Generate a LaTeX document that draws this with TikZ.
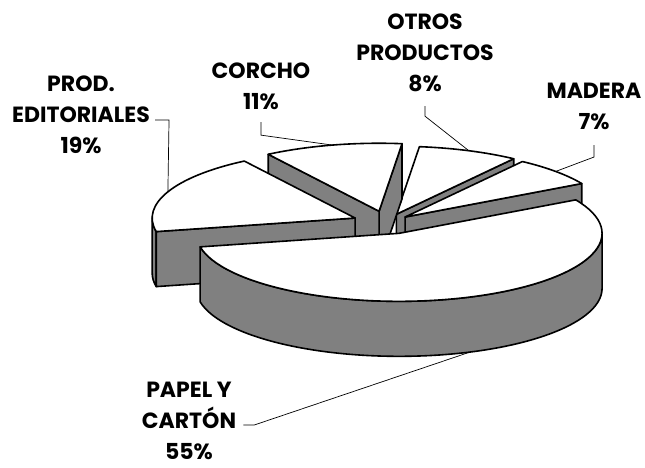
\documentclass[tikz,border=0pt]{standalone}
\usepackage{fontspec}
\setmainfont{Poppins}
\definecolor{sidegray}{RGB}{128,128,128}

\newcommand{\pierx}{203}
\newcommand{\piery}{68}
\newcommand{\pieh}{55}

% centre of one slice, pushed out along its middle angle
\newcommand{\slicecenter}[3]{\coordinate (#1) at ({387+#3*\pierx*cos(#2)},{-222.5+#3*\piery*sin(#2)});}
% cut face of a slice at one angle
\newcommand{\radface}[2]{\filldraw[sideface] (#1) -- ++({\pierx*cos(#2)},{\piery*sin(#2)}) -- ++(0,-\pieh) -- ++({-\pierx*cos(#2)},{-\piery*sin(#2)}) -- cycle;}
% round outer wall between two angles
\newcommand{\outerside}[3]{\filldraw[sideface] (#1) ++({\pierx*cos(#2)},{\piery*sin(#2)}) arc[start angle=#2, end angle=#3, x radius=\pierx, y radius=\piery] -- ++(0,-\pieh) arc[start angle=#3, end angle=#2, x radius=\pierx, y radius=\piery] -- cycle;}
% top of a slice
\newcommand{\slicetop}[3]{\filldraw[topface] (#1) -- ++({\pierx*cos(#2)},{\piery*sin(#2)}) arc[start angle=#2, end angle=#3, x radius=\pierx, y radius=\piery] -- cycle;}

\tikzset{
  sideface/.style={fill=sidegray, draw=black, line width=1.6pt, line join=round},
  topface/.style={fill=white, draw=black, line width=1.6pt, line join=round},
  leader/.style={draw=black, line width=0.7pt},
  lbl/.style={font=\fontsize{22}{31}\selectfont\bfseries, align=center, inner sep=0pt}
}

\begin{document}
\begin{tikzpicture}[x=1pt, y=1pt]
\useasboundingbox (0,-468) rectangle (645,0);

\slicecenter{cotros}{69.1}{0.13}
\slicecenter{ccorcho}{103.3}{0.17}
\slicecenter{cmadera}{42.1}{0.12}
\slicecenter{cprod}{157.3}{0.17}
\slicecenter{cpapel}{290.5}{0.17}

% back slices first
\radface{cotros}{54.7}
\slicetop{cotros}{54.7}{83.5}
\radface{ccorcho}{83.5}
\radface{ccorcho}{123.1}
\slicetop{ccorcho}{83.5}{123.1}
\radface{cmadera}{29.5}
\slicetop{cmadera}{29.5}{54.7}
\outerside{cprod}{180}{191.5}
\radface{cprod}{191.5}
\slicetop{cprod}{123.1}{191.5}
\outerside{cpapel}{191.5}{360}
\slicetop{cpapel}{191.5}{389.5}

% labels
\node[lbl] (lotros) at (425,-53) {OTROS\\PRODUCTOS\\8\%};
\node[lbl] (lmadera) at (594,-106.5) {MADERA\\7\%};
\node[lbl] (lcorcho) at (261,-86.5) {CORCHO\\11\%};
\node[lbl] (lprod) at (81,-115) {PROD.\\EDITORIALES\\19\%};
\node[lbl] (lpapel) at (189,-421) {PAPEL Y\\CART\'ON\\55\%};

% rim points
\path (cotros) ++({\pierx*cos(69.1)},{\piery*sin(69.1)}) coordinate (rotros);
\path (ccorcho) ++({\pierx*cos(103.3)},{\piery*sin(103.3)}) coordinate (rcorcho);
\path (cmadera) ++({\pierx*cos(42.1)},{\piery*sin(42.1)}) coordinate (rmadera);
\path (cprod) ++({\pierx*cos(157.3)},{\piery*sin(157.3)}) coordinate (rprod);
\path (cpapel) ++({\pierx*cos(290.5)},{\piery*sin(290.5)-\pieh}) coordinate (rpapel);

% leader lines
\draw[leader] ([yshift=-14pt]lotros.south) -- ++(0,-10) -- (rotros);
\draw[leader] ([yshift=-15pt]lmadera.south) -- ++(0,-12) -- (rmadera);
\draw[leader] ([yshift=-12pt]lcorcho.south) -- ++(0,-13) -- (rcorcho);
\draw[leader] ([xshift=5pt,yshift=-5pt]lprod.east) -- ++(14,0) -- (rprod);
\draw[leader] ([xshift=7pt,yshift=-4pt]lpapel.east) -- ++(11,0) -- (rpapel);
\end{tikzpicture}
\end{document}
